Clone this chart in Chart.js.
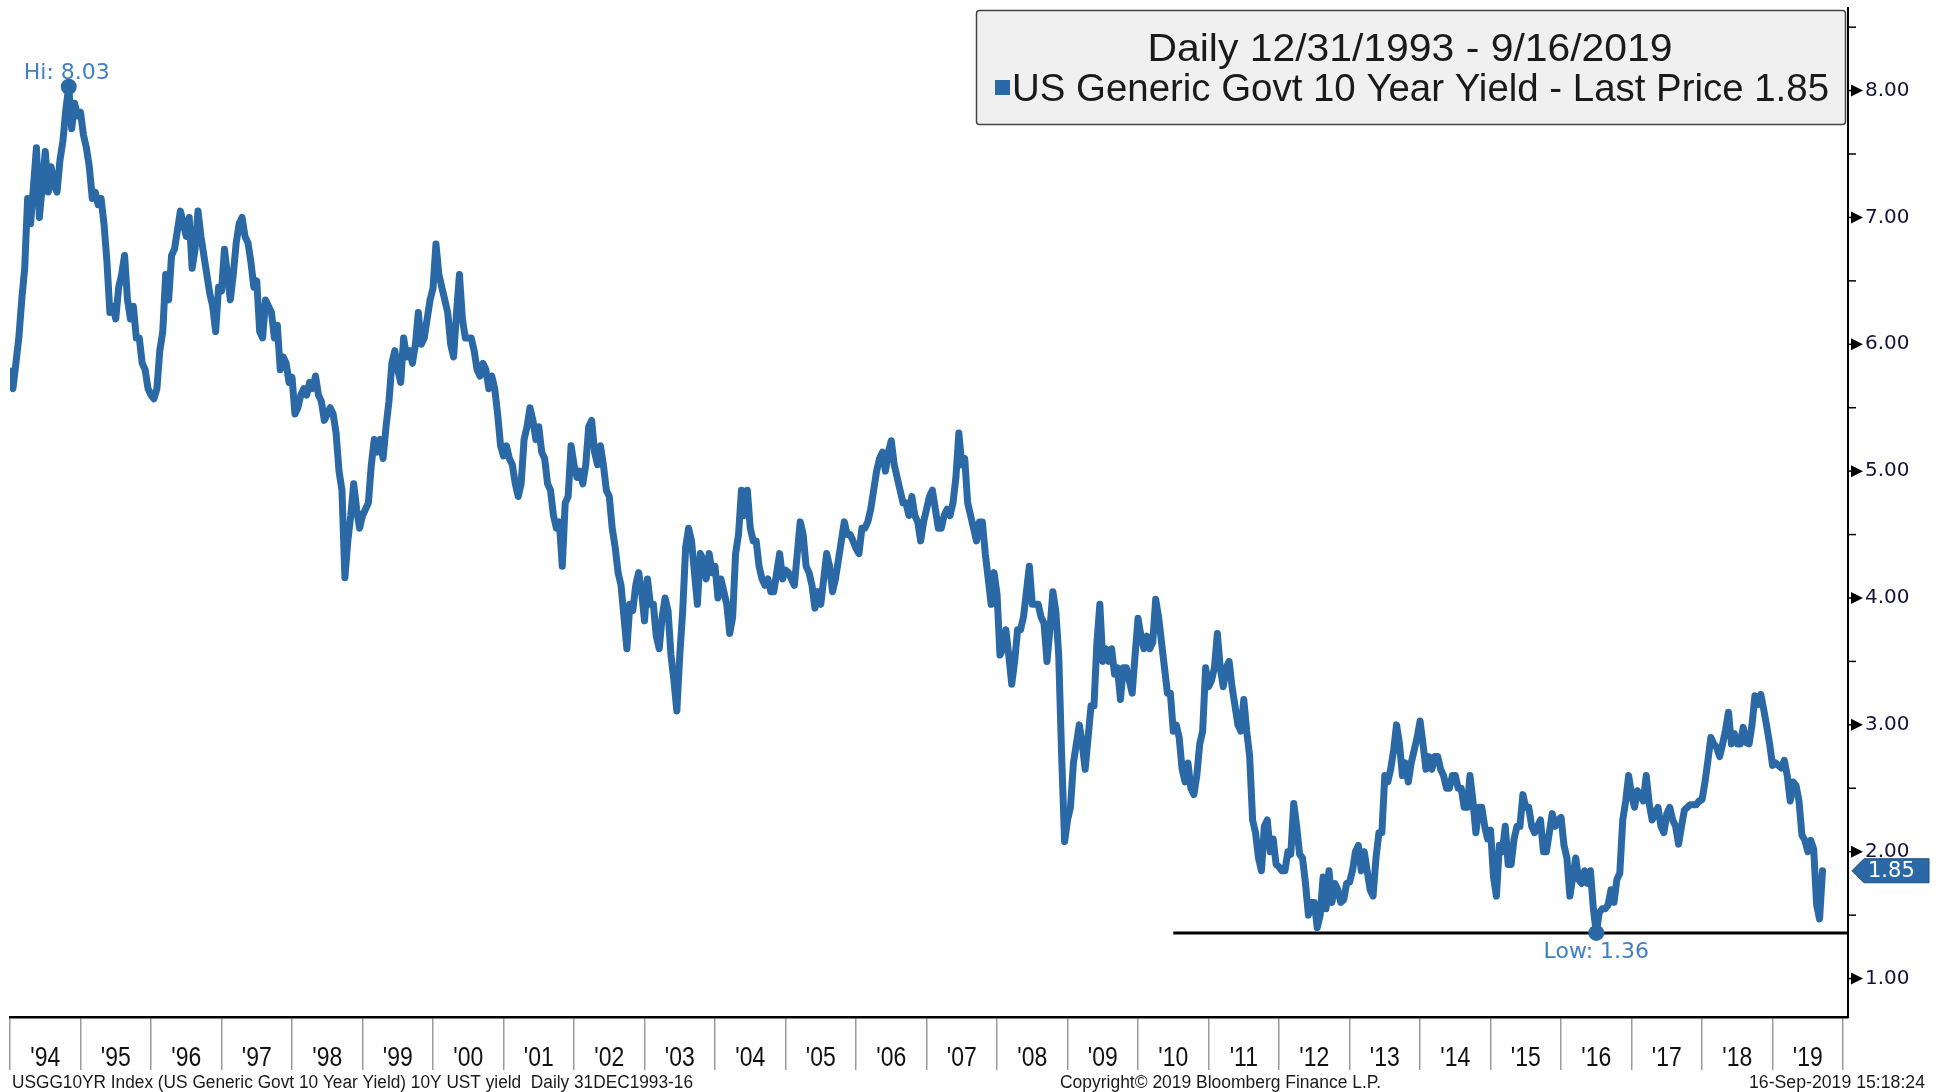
<!DOCTYPE html>
<html>
<head>
<meta charset="utf-8">
<title>US Generic Govt 10 Year Yield</title>
<script src="https://cdn.jsdelivr.net/npm/chart.js@4.4.0/dist/chart.umd.min.js"></script>
<style>
  html, body { margin: 0; padding: 0; background: #fff; }
  #wrap { width: 1940px; height: 1092px; position: relative; }
</style>
</head>
<body>
<div id="wrap"><canvas id="yieldChart" width="1940" height="1092"></canvas></div>
<script>
// ---- data: 10Y yield, two readings per month (1st / 15th) ----
const y1994 = [5.79, 5.65, 5.85, 6.05, 6.35, 6.60, 7.15, 6.95, 7.25, 7.55, 7.00, 7.25, 7.52, 7.20, 7.40, 7.25, 7.20, 7.45, 7.60, 7.85, 8.03, 7.70, 7.90, 7.80];
const y1995 = [7.83, 7.65, 7.55, 7.40, 7.15, 7.20, 7.10, 7.15, 6.95, 6.65, 6.25, 6.30, 6.20, 6.45, 6.55, 6.70, 6.35, 6.20, 6.30, 6.05, 6.05, 5.85, 5.80, 5.65];
const y1996 = [5.60, 5.57, 5.65, 5.95, 6.10, 6.55, 6.35, 6.70, 6.75, 6.90, 7.05, 6.95, 6.85, 7.00, 6.60, 6.75, 7.05, 6.85, 6.70, 6.55, 6.40, 6.30, 6.10, 6.45];
const y1997 = [6.42, 6.75, 6.55, 6.35, 6.55, 6.80, 6.95, 7.00, 6.85, 6.80, 6.65, 6.45, 6.50, 6.10, 6.05, 6.35, 6.30, 6.25, 6.05, 6.15, 5.80, 5.90, 5.85, 5.70];
const y1998 = [5.74, 5.45, 5.50, 5.60, 5.65, 5.60, 5.70, 5.65, 5.75, 5.60, 5.55, 5.40, 5.45, 5.50, 5.45, 5.30, 5.00, 4.85, 4.16, 4.45, 4.65, 4.90, 4.70, 4.55];
const y1999 = [4.65, 4.70, 4.75, 5.05, 5.25, 5.15, 5.25, 5.10, 5.35, 5.55, 5.85, 5.95, 5.80, 5.70, 6.05, 5.90, 5.95, 5.85, 6.00, 6.25, 6.00, 6.05, 6.20, 6.35];
const y2000 = [6.44, 6.79, 6.55, 6.45, 6.35, 6.25, 6.00, 5.90, 6.25, 6.55, 6.20, 6.05, 6.05, 6.05, 5.95, 5.80, 5.75, 5.85, 5.80, 5.65, 5.75, 5.65, 5.45, 5.20];
const y2001 = [5.12, 5.20, 5.10, 5.05, 4.90, 4.80, 4.90, 5.25, 5.35, 5.50, 5.40, 5.25, 5.35, 5.15, 5.10, 4.90, 4.85, 4.65, 4.55, 4.60, 4.25, 4.75, 4.80, 5.20];
const y2002 = [5.05, 4.95, 5.00, 4.90, 5.05, 5.35, 5.40, 5.15, 5.05, 5.20, 5.05, 4.85, 4.80, 4.55, 4.40, 4.20, 4.10, 3.85, 3.60, 3.95, 3.90, 4.10, 4.20, 4.05];
const y2003 = [3.82, 4.15, 3.95, 3.95, 3.70, 3.60, 3.85, 4.00, 3.90, 3.55, 3.35, 3.11, 3.55, 3.90, 4.40, 4.55, 4.45, 4.20, 3.95, 4.35, 4.30, 4.15, 4.35, 4.20];
const y2004 = [4.25, 4.00, 4.15, 4.05, 3.95, 3.72, 3.85, 4.35, 4.50, 4.85, 4.65, 4.85, 4.55, 4.45, 4.45, 4.25, 4.15, 4.10, 4.15, 4.05, 4.05, 4.20, 4.35, 4.15];
const y2005 = [4.22, 4.20, 4.15, 4.10, 4.35, 4.60, 4.50, 4.25, 4.20, 4.10, 3.92, 4.05, 3.95, 4.15, 4.35, 4.25, 4.05, 4.15, 4.30, 4.45, 4.60, 4.50, 4.50, 4.45];
const y2006 = [4.39, 4.35, 4.55, 4.55, 4.60, 4.70, 4.85, 5.00, 5.10, 5.15, 5.00, 5.15, 5.24, 5.05, 4.95, 4.85, 4.75, 4.75, 4.65, 4.80, 4.65, 4.60, 4.45, 4.60];
const y2007 = [4.70, 4.80, 4.85, 4.70, 4.55, 4.55, 4.65, 4.70, 4.65, 4.75, 4.95, 5.30, 5.05, 5.10, 4.75, 4.65, 4.55, 4.45, 4.60, 4.60, 4.35, 4.15, 3.95, 4.20];
const y2008 = [4.03, 3.55, 3.60, 3.75, 3.55, 3.32, 3.50, 3.75, 3.75, 3.85, 4.05, 4.25, 3.95, 3.95, 3.95, 3.85, 3.80, 3.50, 3.75, 4.05, 3.90, 3.55, 2.75, 2.08];
const y2009 = [2.25, 2.35, 2.70, 2.85, 3.00, 2.85, 2.65, 2.90, 3.15, 3.15, 3.65, 3.95, 3.50, 3.60, 3.50, 3.60, 3.40, 3.45, 3.20, 3.45, 3.45, 3.35, 3.25, 3.55];
const y2010 = [3.84, 3.70, 3.60, 3.70, 3.60, 3.65, 3.99, 3.85, 3.65, 3.45, 3.25, 3.25, 2.95, 3.00, 2.90, 2.65, 2.55, 2.70, 2.50, 2.45, 2.60, 2.85, 2.95, 3.45];
const y2011 = [3.30, 3.35, 3.45, 3.72, 3.45, 3.30, 3.45, 3.50, 3.30, 3.15, 3.00, 2.95, 3.20, 2.95, 2.75, 2.25, 2.15, 1.95, 1.85, 2.20, 2.25, 2.00, 2.10, 1.90];
const y2012 = [1.88, 1.85, 1.85, 2.00, 1.98, 2.38, 2.20, 1.98, 1.95, 1.75, 1.50, 1.60, 1.60, 1.40, 1.50, 1.80, 1.55, 1.85, 1.60, 1.75, 1.70, 1.60, 1.62, 1.75];
const y2013 = [1.76, 1.85, 2.00, 2.05, 1.85, 2.00, 1.85, 1.70, 1.65, 1.95, 2.15, 2.15, 2.60, 2.55, 2.65, 2.80, 3.00, 2.85, 2.60, 2.70, 2.55, 2.70, 2.80, 2.90];
const y2014 = [3.03, 2.85, 2.65, 2.75, 2.65, 2.75, 2.75, 2.65, 2.60, 2.50, 2.50, 2.60, 2.60, 2.50, 2.50, 2.35, 2.35, 2.60, 2.40, 2.15, 2.35, 2.35, 2.20, 2.10];
const y2015 = [2.17, 1.80, 1.65, 2.05, 2.00, 2.20, 1.90, 1.90, 2.10, 2.20, 2.20, 2.45, 2.35, 2.35, 2.20, 2.15, 2.20, 2.25, 2.00, 2.00, 2.15, 2.30, 2.20, 2.25];
const y2016 = [2.27, 2.05, 1.95, 1.65, 1.80, 1.95, 1.78, 1.75, 1.85, 1.75, 1.85, 1.55, 1.36, 1.52, 1.55, 1.55, 1.58, 1.70, 1.60, 1.78, 1.83, 2.25, 2.40, 2.60];
const y2017 = [2.45, 2.35, 2.48, 2.45, 2.40, 2.60, 2.38, 2.25, 2.30, 2.35, 2.20, 2.15, 2.30, 2.35, 2.25, 2.20, 2.06, 2.20, 2.33, 2.35, 2.37, 2.37, 2.37, 2.40];
const y2018 = [2.41, 2.55, 2.72, 2.90, 2.85, 2.82, 2.75, 2.85, 2.96, 3.10, 2.85, 2.93, 2.85, 2.85, 2.98, 2.86, 2.85, 3.00, 3.23, 3.16, 3.24, 3.12, 2.99, 2.85];
const y2019 = [2.68, 2.70, 2.68, 2.66, 2.72, 2.60, 2.40, 2.55, 2.52, 2.40, 2.13, 2.09, 2.00, 2.09, 2.02, 1.58, 1.47, 1.85];

const firstYear = 1994;
const yearSeries = [y1994, y1995, y1996, y1997, y1998, y1999, y2000, y2001, y2002, y2003, y2004,
  y2005, y2006, y2007, y2008, y2009, y2010, y2011, y2012, y2013, y2014, y2015, y2016, y2017, y2018, y2019];

const yearLabels = ["'94", "'95", "'96", "'97", "'98", "'99", "'00", "'01", "'02", "'03", "'04", "'05", "'06",
  "'07", "'08", "'09", "'10", "'11", "'12", "'13", "'14", "'15", "'16", "'17", "'18", "'19"];
const yTicks = [1, 2, 3, 4, 5, 6, 7, 8];
const lowLineStart = 2010.5;

const LINE_BLUE = '#2a69a6';
const LABEL_BLUE = '#3f7fc4';
const SANS = '"Liberation Sans", Arial, sans-serif';
const WIDE = '"DejaVu Sans", Verdana, sans-serif';

// flatten to {x: decimal year, y: yield}
const points = [];
yearSeries.forEach((vals, i) => {
  vals.forEach((v, j) => points.push({ x: firstYear + i + j / 24, y: v }));
});

const hiPoint = points.reduce((a, b) => (b.y > a.y ? b : a));
const lowPoint = points.reduce((a, b) => (b.y < a.y ? b : a));
const lastPoint = points[points.length - 1];

const X_MIN = 1994, X_MAX = 2020.07;
const Y_MIN = 0.697, Y_MAX = 8.651;

// draw text squeezed/stretched to a given width
function fitText(ctx, text, x, y, width, font, color, align) {
  ctx.save();
  ctx.font = font;
  ctx.fillStyle = color;
  ctx.textBaseline = 'alphabetic';
  ctx.textAlign = 'left';
  const k = width / ctx.measureText(text).width;
  const left = align === 'center' ? x - width / 2 : (align === 'right' ? x - width : x);
  ctx.translate(left, y);
  ctx.scale(k, 1);
  ctx.fillText(text, 0, 0);
  ctx.restore();
}

// narrow text centred at cx (horizontal squeeze k)
function narrowText(ctx, text, cx, y, font, color, k) {
  ctx.save();
  ctx.font = font;
  ctx.fillStyle = color;
  ctx.textBaseline = 'alphabetic';
  ctx.textAlign = 'center';
  ctx.translate(cx, y);
  ctx.scale(k, 1);
  ctx.fillText(text, 0, 0);
  ctx.restore();
}

const decorations = {
  id: 'decorations',
  afterDraw(chart) {
    const { ctx, chartArea } = chart;
    const xs = chart.scales.x, ys = chart.scales.y;
    const ax = chartArea.right;

    // year labels between the year ticks
    yearLabels.forEach((lab, i) => {
      narrowText(ctx, lab, xs.getPixelForValue(firstYear + i + 0.5), 1066, '28px ' + SANS, '#111', 0.82);
    });

    // right axis: arrow ticks on whole numbers, short marks on halves
    ctx.save();
    ctx.fillStyle = '#000';
    ctx.strokeStyle = '#000';
    ctx.lineWidth = 1.5;
    yTicks.forEach(v => {
      const py = ys.getPixelForValue(v);
      ctx.beginPath();
      ctx.moveTo(ax, py);
      ctx.lineTo(ax + 6, py);
      ctx.stroke();
      ctx.beginPath();
      ctx.moveTo(ax + 3, py - 6);
      ctx.lineTo(ax + 15, py);
      ctx.lineTo(ax + 3, py + 6);
      ctx.closePath();
      ctx.fill();
      const ph = ys.getPixelForValue(v + 0.5);
      if (v + 0.5 < Y_MAX) {
        ctx.beginPath();
        ctx.moveTo(ax, ph);
        ctx.lineTo(ax + 8, ph);
        ctx.stroke();
      }
    });
    ctx.restore();

    // last price tag
    const py = ys.getPixelForValue(lastPoint.y);
    ctx.save();
    ctx.beginPath();
    ctx.moveTo(ax + 4, py);
    ctx.lineTo(ax + 16, py - 12);
    ctx.lineTo(1929, py - 12);
    ctx.lineTo(1929, py + 12);
    ctx.lineTo(ax + 16, py + 12);
    ctx.closePath();
    ctx.fillStyle = LINE_BLUE;
    ctx.fill();
    ctx.strokeStyle = '#1d4f80';
    ctx.lineWidth = 1;
    ctx.stroke();
    ctx.fillStyle = '#fff';
    ctx.font = '21px ' + WIDE;
    ctx.textBaseline = 'middle';
    ctx.fillText(lastPoint.y.toFixed(2), ax + 20, py + 1);
    ctx.restore();

    // hi / low labels
    ctx.save();
    ctx.fillStyle = LABEL_BLUE;
    ctx.font = '22px ' + WIDE;
    ctx.textAlign = 'center';
    ctx.textBaseline = 'alphabetic';
    ctx.fillText('Hi: ' + hiPoint.y.toFixed(2), xs.getPixelForValue(hiPoint.x) - 2, ys.getPixelForValue(hiPoint.y) - 8);
    ctx.fillText('Low: ' + lowPoint.y.toFixed(2), xs.getPixelForValue(lowPoint.x), ys.getPixelForValue(lowPoint.y) + 25);
    ctx.restore();

    // legend box
    ctx.save();
    ctx.beginPath();
    ctx.roundRect(976.5, 10.5, 869, 114, 3);
    ctx.fillStyle = '#f0f0f0';
    ctx.fill();
    ctx.strokeStyle = '#444';
    ctx.lineWidth = 1.5;
    ctx.stroke();
    ctx.fillStyle = LINE_BLUE;
    ctx.fillRect(995, 80, 15, 15);
    ctx.restore();
    fitText(ctx, 'Daily 12/31/1993 - 9/16/2019', 1410, 61, 525, '38px ' + SANS, '#1a1a1a', 'center');
    fitText(ctx, 'US Generic Govt 10 Year Yield - Last Price ' + lastPoint.y.toFixed(2), 1012, 101, 817, '39px ' + SANS, '#1a1a1a', 'left');

    // footer
    fitText(ctx, 'USGG10YR Index (US Generic Govt 10 Year Yield) 10Y UST yield  Daily 31DEC1993-16', 12, 1088, 681, '18px ' + SANS, '#1a1a1a', 'left');
    fitText(ctx, 'Copyright\u00a9 2019 Bloomberg Finance L.P.', 1060, 1088, 321, '18px ' + SANS, '#1a1a1a', 'left');
    fitText(ctx, '16-Sep-2019 15:18:24', 1925, 1088, 176, '18px ' + SANS, '#1a1a1a', 'right');
  }
};

new Chart(document.getElementById('yieldChart'), {
  type: 'line',
  data: {
    datasets: [
      {
        label: 'US Generic Govt 10 Year Yield',
        data: points,
        borderColor: LINE_BLUE,
        borderWidth: 7,
        borderJoinStyle: 'round',
        borderCapStyle: 'round',
        pointRadius: 0,
        tension: 0,
        order: 2
      },
      {
        label: 'low line',
        data: [{ x: lowLineStart, y: lowPoint.y }, { x: X_MAX, y: lowPoint.y }],
        borderColor: '#000',
        borderWidth: 3,
        pointRadius: 0,
        order: 3
      },
      {
        label: 'extremes',
        type: 'scatter',
        data: [hiPoint, lowPoint],
        pointRadius: 8,
        pointBackgroundColor: LINE_BLUE,
        pointBorderWidth: 0,
        order: 1
      }
    ]
  },
  options: {
    responsive: false,
    animation: false,
    devicePixelRatio: 1,
    layout: { padding: { left: 10, top: 6, right: 0, bottom: 0 } },
    plugins: { legend: { display: false }, tooltip: { enabled: false } },
    scales: {
      x: {
        type: 'linear',
        min: X_MIN,
        max: X_MAX,
        afterFit(scale) {
          scale.height = 75;
          scale.paddingLeft = 0;
          scale.paddingRight = 0;
        },
        border: { display: true, color: '#000', width: 2.5 },
        grid: { drawOnChartArea: false, drawTicks: true, tickLength: 53, color: '#9a9a9a', lineWidth: 1.5 },
        ticks: {
          stepSize: 1,
          includeBounds: false,
          autoSkip: false,
          maxRotation: 0,
          callback: () => ''
        }
      },
      y: {
        position: 'right',
        min: Y_MIN,
        max: Y_MAX,
        afterFit(scale) {
          scale.width = 92;
          scale.paddingTop = 0;
          scale.paddingBottom = 0;
        },
        border: { display: true, color: '#000', width: 2 },
        grid: { drawOnChartArea: false, drawTicks: false },
        ticks: {
          stepSize: 1,
          includeBounds: false,
          padding: 17,
          color: '#14143a',
          font: { family: WIDE, size: 20 },
          callback: v => v.toFixed(2)
        }
      }
    }
  },
  plugins: [decorations]
});
</script>
</body>
</html>
